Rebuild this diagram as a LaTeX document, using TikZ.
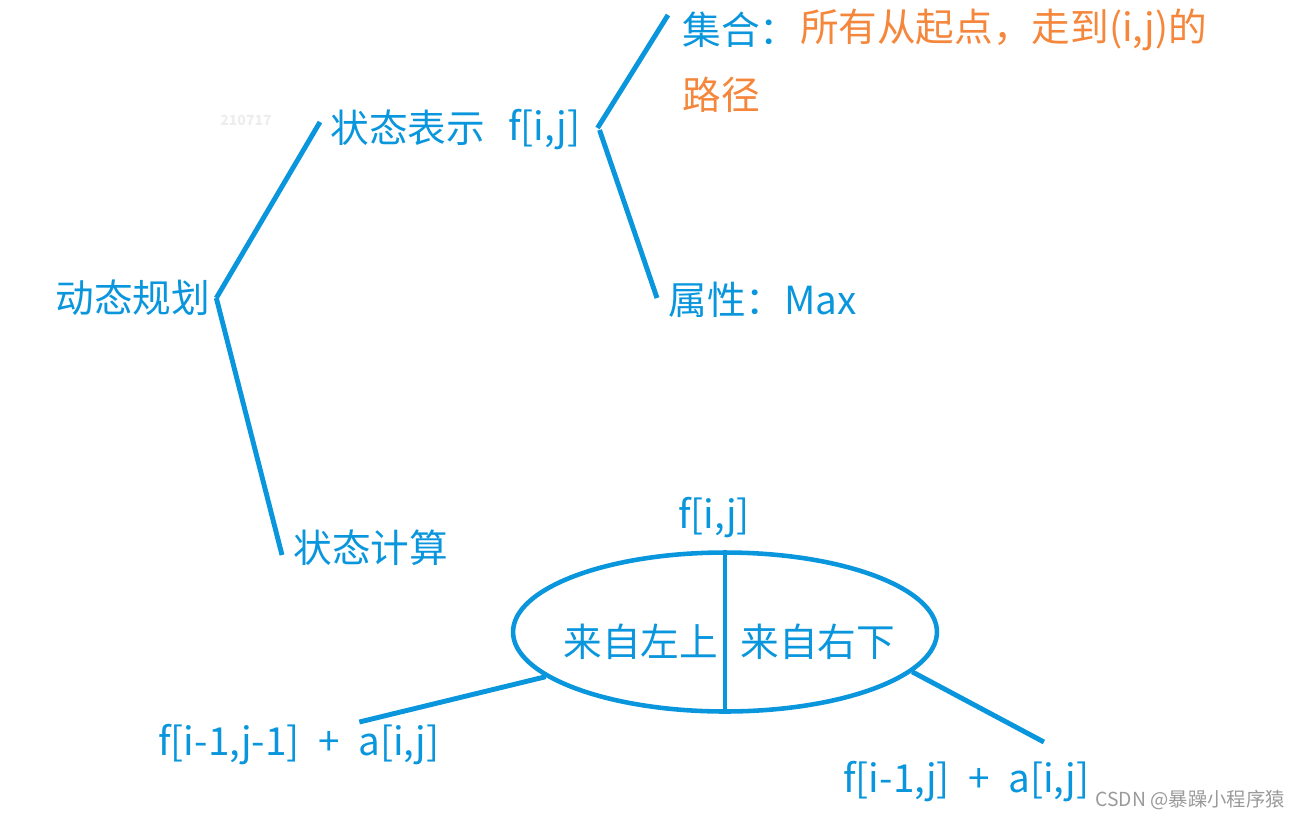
\documentclass[tikz,border=0pt]{standalone}
\usepackage{fontspec}
\setmainfont{Noto Sans CJK SC}
\usepackage{xcolor}
\definecolor{cBlue}  {HTML}{0A96DC}
\definecolor{cOrange}{HTML}{F5873C}
\definecolor{cMark}  {HTML}{9A9A9A}
\usepackage{tikz}
\usetikzlibrary{shapes.geometric, positioning, calc}
\tikzset{
  txt/.style  = {inner sep=0pt, anchor=west, text=cBlue,
                 font=\fontsize{22}{26}\selectfont},
  ln/.style   = {draw=cBlue, line width=2.8pt},
  oval/.style = {ellipse, draw=cBlue, line width=2.6pt,
                 minimum width=8.48cm, minimum height=3.18cm, inner sep=0pt},
}

\begin{document}
\begin{tikzpicture}[x=0.02cm, y=-0.02cm]
  \useasboundingbox (0,0) rectangle (1300,818);

  %% Upper tree
  \node[txt] (dp)  at (55,298)  {动态规划};
  \node[txt] (zt)  at (330,128) {状态表示};
  \node[txt] (fij) at (508,130) {f[i,j]};
  \node[txt] (jh)  at (682,30)  {集合：};
  \node[txt, text=cOrange, right=0.02cm of jh] (jhv)
        {所有从起点，走到(i,j)的};
  \node[txt, text=cOrange] (lj) at (682,95) {路径};
  \node[txt] (sx)  at (668,300) {属性：Max};
  \node[txt] (js)  at (293,548) {状态计算};

  %% Lower part
  \node[oval] (ell) at (725,632) {};
  \node[txt, anchor=south] (top) at (714,538) {f[i,j]};
  \node[txt] (zs)  at (563,642) {来自左上};
  \node[txt] (yx)  at (740,642) {来自右下};
  \node[txt] (l1)  at (158,745) {f[i-1,j-1]\hspace{0.37cm}+\hspace{0.37cm}a[i,j]};
  \node[txt] (l2)  at (843,782) {f[i-1,j]\hspace{0.37cm}+\hspace{0.37cm}a[i,j]};

  %% marks
  \node[inner sep=0pt, text=black!7, font=\fontsize{8}{9}\selectfont\bfseries]
        (wm) at (246,120) {210717};
  \node[inner sep=0pt, anchor=east, text=cMark,
        font=\fontsize{11}{13}\selectfont] (csdn) at (1285,800)
        {CSDN @暴躁小程序猿};

  %% Lines
  \draw[ln] ([xshift=0.12cm]dp.east) -- ([shift={(-0.2cm,0.12cm)}]zt.west);
  \draw[ln] ([xshift=0.12cm]dp.east) -- ([shift={(-0.22cm,-0.14cm)}]js.west);
  \draw[ln] ([shift={(0.34cm,0.04cm)}]fij.east) -- ([shift={(-0.28cm,0.3cm)}]jh.west);
  \draw[ln] ([shift={(0.38cm,0cm)}]fij.east) -- ([shift={(-0.22cm,0.04cm)}]sx.west);
  \draw[ln] (ell.north) -- (ell.south);
  \draw[ln] (ell.194) -- ([shift={(1.21cm,0.46cm)}]l1.center);
  \draw[ln] (ell.348) -- ([shift={(1.55cm,0.8cm)}]l2.center);

\end{tikzpicture}
\end{document}
